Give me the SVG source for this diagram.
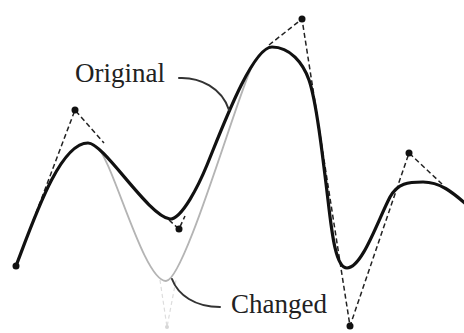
<svg xmlns="http://www.w3.org/2000/svg" width="464" height="333" viewBox="0 0 464 333">
<style>
.curve{fill:none;stroke:#111;stroke-width:3.2;stroke-linecap:round;stroke-linejoin:round}
.changed{fill:none;stroke:#b4b4b4;stroke-width:1.8}
.poly{fill:none;stroke:#222;stroke-width:1.5;stroke-dasharray:5 3}
.faint{fill:none;stroke:#ddd;stroke-width:1.2;stroke-dasharray:4 3}
.leader{fill:none;stroke:#333;stroke-width:2;stroke-linecap:round}
.pt{fill:#111}
.lbl{font-family:"Liberation Serif","Times New Roman",serif;font-size:27px;fill:#222}
</style>
<rect width="464" height="333" fill="#fff"/>
<g id="control-polygon">
<path class="poly" d="M16,266 L75,110 L104,143"/>
<path class="poly" d="M169,220 L179,229 L185,216"/>
<path class="poly" d="M269,45 L302,19 L350,326 L409,153 L442,184"/>
<path class="faint" d="M160,280 L167,327 L176,280"/>
</g>
<g id="curve-changed">
<path class="changed" d="M96,146 C112,156 143,281 166,281 C184,281 236,100 252,66"/>
<circle cx="167" cy="327" r="2" fill="#d6d6d6"/>
</g>
<g id="curve-original">
<path class="curve" d="M16,266 C35,216 60,143 88,143 C104,143 148,216 170,219 C182,219 199,184.5 207,165 C221,131 252,47 272,47 C290,47 303,63 309,80 C316,100 322,150 328,200 C332,235 336,268 347,268 C362,268 378,220 390,197 C398,183 408,182 423,182 C440,182 452,192 466,204"/>
</g>
<g id="control-points">
<circle class="pt" cx="16" cy="266" r="3.5"/>
<circle class="pt" cx="75" cy="110" r="3.5"/>
<circle class="pt" cx="179" cy="229" r="3.5"/>
<circle class="pt" cx="302" cy="19" r="3.5"/>
<circle class="pt" cx="350" cy="326" r="3.5"/>
<circle class="pt" cx="409" cy="153" r="3.5"/>
</g>
<g id="connectors">
<path class="leader" d="M179,78 C200,77 222,88 229,110"/>
<path class="leader" d="M172,279 C178,295 195,307 220,307"/>
</g>
<g id="label-original"><text class="lbl" x="75" y="82">Original</text></g>
<g id="label-changed"><text class="lbl" x="231" y="313">Changed</text></g>
</svg>
